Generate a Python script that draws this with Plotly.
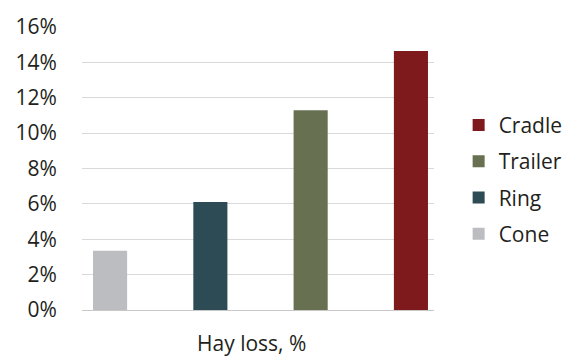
import plotly.graph_objects as go

# Hay loss by feeder type
feeders = ["Cone", "Ring", "Trailer", "Cradle"]
hay_loss = [3.35, 6.1, 11.3, 14.65]
colors = ["#bcbdc1", "#2d4b55", "#677152", "#7e1a1c"]

tick_vals = [0, 2, 4, 6, 8, 10, 12, 14, 16]
tick_text = [f"{v}%" for v in tick_vals]

FONT = "Open Sans"
TEXT = "#231f20"

fig = go.Figure()
n = len(feeders)
for i, (name, val, col) in enumerate(zip(feeders, hay_loss, colors)):
    # legend lists the feeders from largest loss to smallest
    fig.add_trace(go.Bar(x=[name], y=[val], name=name, marker_color=col,
                         marker_line_width=0, legendgroup=name,
                         legendrank=1000 + (n - i)))

fig.update_layout(
    width=587, height=362,
    margin=dict(l=82, r=153, t=23, b=52),
    paper_bgcolor="white", plot_bgcolor="white",
    barmode="overlay", bargap=0.66,
    font=dict(family=FONT, color=TEXT, size=21),
    showlegend=True,
    legend=dict(traceorder="grouped", tracegroupgap=6,
                x=1.07, xanchor="left", y=0.46, yanchor="middle",
                font=dict(size=21), itemwidth=30,
                bgcolor="rgba(0,0,0,0)"),
)
fig.update_xaxes(showticklabels=False, showgrid=False, zeroline=False,
                 showline=False, ticks="", range=[-0.28, 3.23],
                 categoryorder="array", categoryarray=feeders)
fig.update_yaxes(range=[0, 16], tickvals=tick_vals, ticktext=tick_text,
                 showgrid=True, gridcolor="#d9d9d9", gridwidth=1,
                 zeroline=True, zerolinecolor="#c8c8c8", zerolinewidth=1,
                 showline=False, ticks="outside", ticklen=20,
                 tickcolor="rgba(0,0,0,0)", tickfont=dict(size=21))

fig.add_annotation(text="Hay loss, %", xref="paper", yref="paper",
                   x=(251 - 82) / 352, y=0, yshift=-33, showarrow=False,
                   xanchor="center", yanchor="middle", font=dict(size=21))

fig.write_html("out.html")
